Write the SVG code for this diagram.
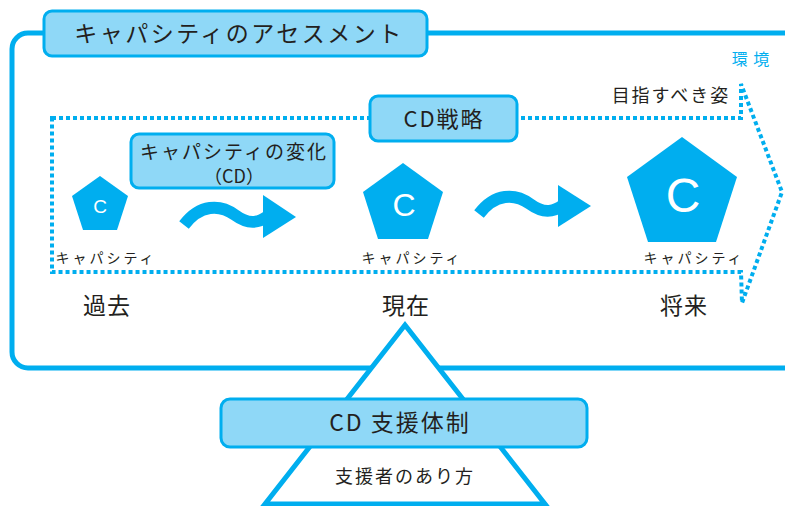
<svg xmlns="http://www.w3.org/2000/svg" width="785" height="506" viewBox="0 0 785 506">
<defs>
<style>
.t{font-family:"Noto Sans CJK JP","Liberation Sans",sans-serif;fill:#231f20;text-anchor:middle}
.box{fill:#8fd8f7;stroke:#00aeef;stroke-width:3}
.pent{fill:#00aeef}
.c{font-family:"Liberation Sans","Noto Sans",sans-serif;fill:#fff;text-anchor:middle}
.dot{fill:none;stroke:#00aeef;stroke-width:4;stroke-dasharray:4 3}
.wave{fill:none;stroke:#00aeef;stroke-width:12}
.cap{font-size:14px;letter-spacing:3px}
</style>
</defs>
<rect width="785" height="506" fill="#fff"/>
<g id="environment">
<rect x="12" y="33" width="790" height="335" rx="16" fill="none" stroke="#00aeef" stroke-width="5"/>
<text x="751" y="65" font-size="16" style="font-family:'Noto Sans CJK JP',sans-serif;text-anchor:middle;fill:#00aeef;letter-spacing:1px">環 境</text>
</g>
<g id="title">
<rect class="box" x="44" y="11" width="383" height="45" rx="8"/>
<text class="t" x="239" y="42" font-size="23" letter-spacing="2.5">キャパシティのアセスメント</text>
</g>
<g id="connectors">
<path class="dot" d="M52 118 H741 V84 L782 192 L742 303 L741 272 H52 Z"/>
<path class="wave" d="M184 225 C200 204,220 204,235 215 C250 226,260 222,268 216"/>
<polygon fill="#00aeef" points="263,195 296,217 263,238"/>
<path class="wave" d="M479 214 C495 193,515 193,530 204 C545 215,555 211,563 205"/>
<polygon fill="#00aeef" points="558,185 591,206 558,227"/>
</g>
<g id="goal-label">
<text class="t" x="671" y="102" font-size="18" letter-spacing="2">目指すべき姿</text>
</g>
<g id="strategy">
<rect class="box" x="370" y="96" width="147" height="45" rx="8"/>
<text class="t" x="444" y="127" font-size="22" letter-spacing="2">CD戦略</text>
</g>
<g id="change">
<rect class="box" x="131" y="134" width="203" height="54" rx="8"/>
<text class="t" x="234" y="159" font-size="19" letter-spacing="2">キャパシティの変化</text>
<text class="t" x="234" y="183" font-size="18">（CD）</text>
</g>
<g id="cap-past">
<polygon class="pent" points="100,176 128,196 117,230 83,230 72,196"/>
<text class="c" x="100" y="213" font-size="19">C</text>
<text class="t cap" x="106" y="263">キャパシティ</text>
</g>
<g id="cap-present">
<polygon class="pent" points="403,163 443,192 428,239 378,239 363,192"/>
<text class="c" x="404" y="216" font-size="32">C</text>
<text class="t cap" x="412" y="263">キャパシティ</text>
</g>
<g id="cap-future">
<polygon class="pent" points="682,137 737,177 716,242 648,242 627,177"/>
<text class="c" x="683" y="212" font-size="48">C</text>
<text class="t cap" x="694" y="263">キャパシティ</text>
</g>
<g id="times">
<text class="t" x="107" y="314" font-size="23" letter-spacing="1">過去</text>
<text class="t" x="406" y="314" font-size="23" letter-spacing="1">現在</text>
<text class="t" x="684" y="314" font-size="23" letter-spacing="1">将来</text>
</g>
<g id="support">
<polygon points="405,325 545,504 265,504" fill="#fff" stroke="#00aeef" stroke-width="5"/>
<rect class="box" x="221" y="399" width="366" height="48" rx="9"/>
<text class="t" x="400" y="431" font-size="23" letter-spacing="2">CD 支援体制</text>
<text class="t" x="405" y="483" font-size="18" letter-spacing="2">支援者のあり方</text>
</g>
</svg>
